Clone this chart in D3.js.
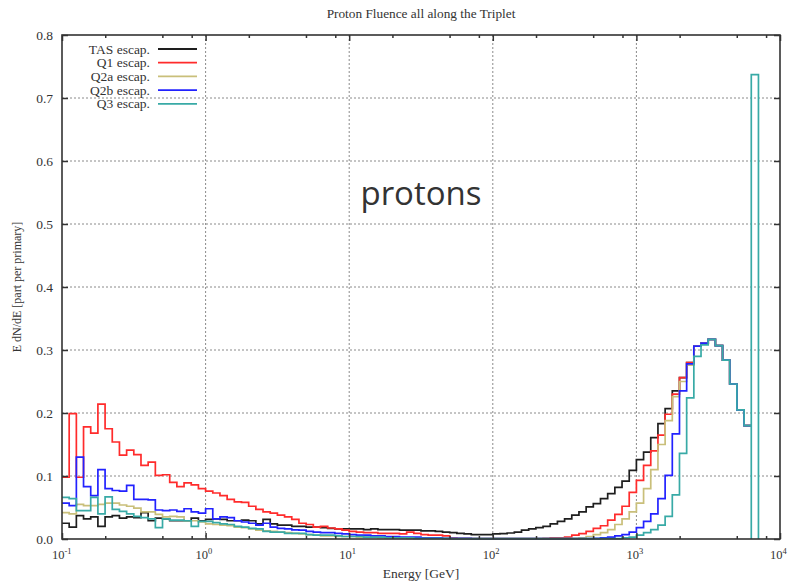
<!DOCTYPE html>
<html>
<head>
<meta charset="utf-8">
<script src="https://cdn.jsdelivr.net/npm/d3@7"></script>
<style>
body { margin: 0; background: #fff; }
text { font-family: "Liberation Serif", "DejaVu Serif", serif; fill: #333; }
</style>
</head>
<body>
<div id="chart"></div>
<script>
// Histogram binning: 20 log bins per decade starting at 0.1 GeV
var binsPerDecade = 20;
var eMin = 0.1;

// Bin contents (E dN/dE), 100 bins from 0.1 GeV to 10 TeV
var tasEscap = [
    0.025, 0.019, 0.037, 0.032, 0.035, 0.020, 0.035, 0.037, 0.033, 0.035, 0.034, 0.042, 0.029, 0.033, 0.032, 0.029, 0.029, 0.029, 0.033, 0.029,
    0.031, 0.032, 0.031, 0.029, 0.029, 0.030, 0.029, 0.024, 0.031, 0.024, 0.022, 0.022, 0.020, 0.020, 0.019, 0.019, 0.018, 0.017, 0.016, 0.016,
    0.016, 0.016, 0.015, 0.016, 0.015, 0.015, 0.015, 0.014, 0.014, 0.014, 0.013, 0.013, 0.012, 0.011, 0.010, 0.009, 0.008, 0.007, 0.007, 0.007,
    0.008, 0.0085, 0.0095, 0.011, 0.014, 0.016, 0.018, 0.020, 0.024, 0.028, 0.032, 0.038, 0.043, 0.051, 0.056, 0.064, 0.072, 0.082, 0.092, 0.109,
    0.126, 0.138, 0.161, 0.183, 0.207, 0.235, 0.256, 0.280, 0.306, 0.311, 0.317, 0.307, 0.284, 0.246, 0.205, 0.180, 0, 0, 0, 0
];
var q1Escap = [
    0.098, 0.199, 0.098, 0.178, 0.168, 0.214, 0.175, 0.154, 0.133, 0.141, 0.134, 0.117, 0.122, 0.101, 0.102, 0.090, 0.083, 0.089, 0.086, 0.080,
    0.076, 0.073, 0.069, 0.063, 0.059, 0.058, 0.052, 0.047, 0.043, 0.041, 0.038, 0.035, 0.031, 0.025, 0.023, 0.019, 0.020, 0.0175, 0.016, 0.014,
    0.012, 0.011, 0.010, 0.010, 0.009, 0.009, 0.009, 0.008, 0.011, 0.009, 0.007, 0.006, 0.006, 0.005, 0.002, 0.001, 0.001, 0.0005, 0.0005, 0.0005,
    0.0005, 0.0005, 0.0005, 0.0005, 0.0005, 0.0005, 0.0008, 0.001, 0.002, 0.002, 0.003, 0.006, 0.0085, 0.012, 0.017, 0.021, 0.030, 0.039, 0.052, 0.074,
    0.093, 0.117, 0.140, 0.165, 0.198, 0.230, 0.256, 0.280, 0.306, 0.311, 0.317, 0.307, 0.284, 0.246, 0.205, 0.180, 0, 0, 0, 0
];
var q2aEscap = [
    0.042, 0.040, 0.055, 0.053, 0.053, 0.055, 0.057, 0.057, 0.054, 0.052, 0.049, 0.043, 0.043, 0.039, 0.035, 0.036, 0.035, 0.029, 0.029, 0.027,
    0.024, 0.023, 0.022, 0.021, 0.019, 0.018, 0.016, 0.014, 0.013, 0.012, 0.011, 0.010, 0.009, 0.008, 0.007, 0.006, 0.005, 0.005, 0.004, 0.004,
    0.004, 0.003, 0.003, 0.003, 0.002, 0.002, 0.002, 0.002, 0.001, 0.001, 0.001, 0.001, 0.001, 0.0005, 0.0005, 0.0005, 0.0005, 0.0005, 0.0005, 0.0005,
    0.0005, 0.0005, 0.0005, 0.0005, 0.0005, 0.0005, 0.0005, 0.0005, 0.0005, 0.0005, 0.0005, 0.001, 0.002, 0.004, 0.007, 0.010, 0.015, 0.023, 0.032, 0.043,
    0.057, 0.080, 0.110, 0.150, 0.188, 0.226, 0.250, 0.276, 0.306, 0.311, 0.317, 0.307, 0.284, 0.246, 0.205, 0.180, 0, 0, 0, 0
];
var q2bEscap = [
    0.057, 0.053, 0.130, 0.083, 0.069, 0.110, 0.080, 0.077, 0.076, 0.085, 0.063, 0.063, 0.062, 0.046, 0.045, 0.046, 0.044, 0.048, 0.043, 0.041,
    0.048, 0.032, 0.035, 0.034, 0.029, 0.027, 0.025, 0.022, 0.025, 0.019, 0.017, 0.016, 0.0145, 0.014, 0.012, 0.011, 0.010, 0.010, 0.009, 0.008,
    0.007, 0.006, 0.006, 0.005, 0.005, 0.004, 0.004, 0.003, 0.003, 0.003, 0.002, 0.002, 0.002, 0.001, 0.001, 0.001, 0.001, 0.0005, 0.0005, 0.0005,
    0.0005, 0.0005, 0.0005, 0.0005, 0.0005, 0.0005, 0.0005, 0.0005, 0.0005, 0.0005, 0.0005, 0.0005, 0.0005, 0.0005, 0.001, 0.002, 0.003, 0.005, 0.007, 0.011,
    0.018, 0.028, 0.040, 0.064, 0.101, 0.167, 0.235, 0.278, 0.306, 0.311, 0.317, 0.307, 0.284, 0.246, 0.205, 0.180, 0, 0, 0, 0
];
var q3Escap = [
    0.066, 0.064, 0.045, 0.045, 0.066, 0.040, 0.067, 0.047, 0.044, 0.040, 0.036, 0.034, 0.032, 0.018, 0.032, 0.030, 0.030, 0.029, 0.020, 0.028,
    0.028, 0.026, 0.024, 0.023, 0.020, 0.019, 0.017, 0.016, 0.012, 0.011, 0.011, 0.009, 0.009, 0.009, 0.007, 0.006, 0.006, 0.006, 0.005, 0.004,
    0.004, 0.004, 0.003, 0.003, 0.003, 0.002, 0.002, 0.002, 0.002, 0.001, 0.001, 0.001, 0.001, 0.001, 0.0005, 0.0005, 0.0005, 0.0005, 0.0005, 0.0005,
    0.0005, 0.0005, 0.0005, 0.0005, 0.0005, 0.0005, 0.0005, 0.0005, 0.0005, 0.0005, 0.0005, 0.0005, 0.0005, 0.0005, 0.0005, 0.0005, 0.0005, 0.0005, 0.002, 0.003,
    0.006, 0.010, 0.015, 0.022, 0.036, 0.070, 0.136, 0.224, 0.290, 0.308, 0.317, 0.307, 0.284, 0.246, 0.205, 0.180, 0.737, 0, 0, 0
];

var seriesNames = ["TAS escap.", "Q1 escap.", "Q2a escap.", "Q2b escap.", "Q3 escap."];
var seriesColors = ["#1e1e1e", "#ff2b2b", "#c9bf7a", "#2222ff", "#38aaa6"];
var seriesValues = [tasEscap, q1Escap, q2aEscap, q2bEscap, q3Escap];

var yTicks = [0, 0.1, 0.2, 0.3, 0.4, 0.5, 0.6, 0.7, 0.8];
var xDecades = [0.1, 1, 10, 100, 1000, 10000];
var xExponents = ["-1", "0", "1", "2", "3", "4"];
var xMinorMultipliers = [2, 5, 8];

var svgWidth = 788;
var svgHeight = 584;

var margin = {
    top: 35,
    right: 8,
    bottom: 45,
    left: 62
};

var width = svgWidth - margin.left - margin.right;
var height = svgHeight - margin.top - margin.bottom;

var svg = d3.select("#chart")
    .append("svg")
    .attr("width", svgWidth)
    .attr("height", svgHeight);

var chartGroup = svg.append("g")
    .attr("transform", `translate(${margin.left}, ${margin.top})`);

// Step 1: scales
// ==============================
var xLogScale = d3.scaleLog()
    .domain([xDecades[0], xDecades[xDecades.length - 1]])
    .range([0, width]);

var yLinearScale = d3.scaleLinear()
    .domain([0, 0.8])
    .range([height, 0]);

// Step 2: dotted grid
// ==============================
chartGroup.append("g")
    .selectAll("line")
    .data(yTicks.slice(1, -1))
    .enter()
    .append("line")
    .attr("x1", 0)
    .attr("x2", width)
    .attr("y1", d => yLinearScale(d))
    .attr("y2", d => yLinearScale(d))
    .attr("stroke", "#8a8a8a")
    .attr("stroke-width", 1)
    .attr("stroke-dasharray", "2,2");

chartGroup.append("g")
    .selectAll("line")
    .data(xDecades.slice(1, -1))
    .enter()
    .append("line")
    .attr("x1", d => xLogScale(d))
    .attr("x2", d => xLogScale(d))
    .attr("y1", 0)
    .attr("y2", height)
    .attr("stroke", "#8a8a8a")
    .attr("stroke-width", 1)
    .attr("stroke-dasharray", "2,2");

// Step 3: histogram lines (step curves over log bins)
// ==============================
var binEdges = d3.range(tasEscap.length + 1).map(i => eMin * Math.pow(10, i / binsPerDecade));

var stepLine = d3.line()
    .x(d => xLogScale(d[0]))
    .y(d => yLinearScale(d[1]))
    .curve(d3.curveLinear);

// histeps outline; empty bins at the high end are not drawn, and the
// isolated beam spike is drawn as its own box standing on zero
function histPoints(values) {
    var last = values.length - 1;
    while (last > 0 && values[last] === 0) last--;
    var pts = [];
    values.slice(0, last + 1).forEach(function(v, i) {
        var prev = i > 0 ? values[i - 1] : 0;
        if (v > 0.5 && prev < v) {
            pts.push([binEdges[i], prev], [binEdges[i], 0]);
        }
        pts.push([binEdges[i], v], [binEdges[i + 1], v]);
    });
    if (values[last] > 0.5) pts.push([binEdges[last + 1], 0]);
    return pts;
}

seriesValues.forEach(function(values, k) {
    chartGroup.append("path")
        .datum(histPoints(values))
        .attr("d", stepLine)
        .attr("fill", "none")
        .attr("stroke", seriesColors[k])
        .attr("stroke-width", 1.7);
});

// Step 4: axes (ticks point inwards, all four sides)
// ==============================
var leftAxis = d3.axisLeft(yLinearScale)
    .tickValues(yTicks)
    .tickSize(-6)
    .tickPadding(9)
    .tickFormat(d3.format(".1f"));

var rightAxis = d3.axisRight(yLinearScale)
    .tickValues(yTicks)
    .tickSize(-6)
    .tickFormat("");

var minorTicks = [];
xDecades.slice(0, -1).forEach(function(dec) {
    xMinorMultipliers.forEach(m => minorTicks.push(dec * m));
});

var bottomMajor = d3.axisBottom(xLogScale).tickValues(xDecades).tickSize(-6).tickFormat("");
var bottomMinor = d3.axisBottom(xLogScale).tickValues(minorTicks).tickSize(-3).tickFormat("");
var topMajor = d3.axisTop(xLogScale).tickValues(xDecades).tickSize(-6).tickFormat("");
var topMinor = d3.axisTop(xLogScale).tickValues(minorTicks).tickSize(-3).tickFormat("");

var yAxisG = chartGroup.append("g").call(leftAxis);
chartGroup.append("g").attr("transform", `translate(${width}, 0)`).call(rightAxis);
chartGroup.append("g").attr("transform", `translate(0, ${height})`).call(bottomMajor);
chartGroup.append("g").attr("transform", `translate(0, ${height})`).call(bottomMinor);
chartGroup.append("g").call(topMajor);
chartGroup.append("g").call(topMinor);

chartGroup.selectAll(".domain").remove();
chartGroup.selectAll(".tick line").attr("stroke", "#333").attr("stroke-width", 1.5);
yAxisG.selectAll("text")
    .style("font-family", "'Liberation Serif', serif")
    .style("font-size", "13.5px")
    .attr("fill", "#444");

// frame
chartGroup.append("rect")
    .attr("width", width)
    .attr("height", height)
    .attr("fill", "none")
    .attr("stroke", "#333")
    .attr("stroke-width", 1.6);

// x tick labels: "10" ends at the tick, exponent follows
var xLabels = chartGroup.append("g")
    .selectAll("text")
    .data(xDecades)
    .enter()
    .append("text")
    .attr("x", d => xLogScale(d) - 10)
    .attr("y", height + 20)
    .style("font-size", "12.5px")
    .attr("fill", "#444");

xLabels.append("tspan").text("10");
xLabels.append("tspan")
    .attr("dy", -5)
    .style("font-size", "8.5px")
    .text((d, i) => xExponents[i]);

// Step 5: titles and labels
// ==============================
svg.append("text")
    .attr("x", margin.left + width / 2)
    .attr("y", 18)
    .attr("text-anchor", "middle")
    .style("font-size", "13.3px")
    .text("Proton Fluence all along the Triplet");

svg.append("text")
    .attr("x", margin.left + width / 2)
    .attr("y", 578)
    .attr("text-anchor", "middle")
    .style("font-size", "13.5px")
    .text("Energy [GeV]");

svg.append("text")
    .attr("transform", "rotate(-90)")
    .attr("x", -(margin.top + height / 2))
    .attr("y", 21)
    .attr("text-anchor", "middle")
    .style("font-size", "12px")
    .text("E dN/dE [part per primary]");

svg.append("text")
    .attr("x", 421)
    .attr("y", 205)
    .attr("text-anchor", "middle")
    .style("font-family", "'Open Sans', sans-serif")
    .style("font-size", "33px")
    .attr("fill", "#000")
    .text("protons");

// Step 6: legend
// ==============================
var legend = svg.append("g")
    .selectAll("g")
    .data(seriesNames)
    .enter()
    .append("g")
    .attr("transform", (d, i) => `translate(0, ${49 + i * 13.7})`);

legend.append("text")
    .attr("x", 150)
    .attr("y", 4.5)
    .attr("text-anchor", "end")
    .style("font-size", "13.5px")
    .text(d => d);

legend.append("line")
    .attr("x1", 158)
    .attr("x2", 197)
    .attr("stroke", (d, i) => seriesColors[i])
    .attr("stroke-width", 1.8);
</script>
</body>
</html>
